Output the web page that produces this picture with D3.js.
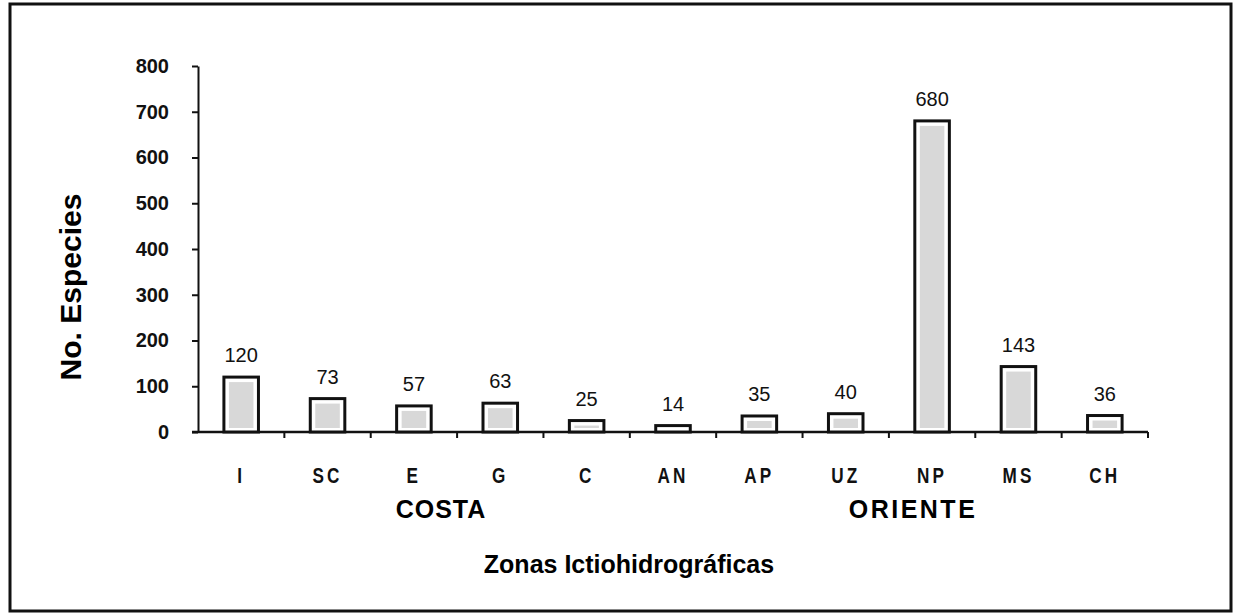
<!DOCTYPE html>
<html>
<head>
<meta charset="utf-8">
<script src="https://cdn.jsdelivr.net/npm/d3@7"></script>
<style>
  body { margin: 0; background: #fff; }
</style>
</head>
<body>
<div class="root"></div>
<script>
const width = 1236;
const height = 613;

const zonas = ["I", "SC", "E", "G", "C", "AN", "AP", "UZ", "NP", "MS", "CH"];
const especies = [120, 73, 57, 63, 25, 14, 35, 40, 680, 143, 36];
const yTicks = [0, 100, 200, 300, 400, 500, 600, 700, 800];

const svg = d3
  .select(".root")
  .append("svg")
  .attr("width", width)
  .attr("height", height);

// marco exterior
svg.append("rect")
  .attr("x", 10).attr("y", 4)
  .attr("width", 1221).attr("height", 607)
  .attr("fill", "none")
  .attr("stroke", "#111")
  .attr("stroke-width", 3);

const x = d3.scaleBand().domain(zonas).range([198, 1148]).paddingInner(0.6).paddingOuter(0.3);
const y = d3.scaleLinear().domain([0, 800]).range([432, 66]);

// eje y
const yAxis = svg.append("g")
  .attr("transform", "translate(198,0)")
  .call(d3.axisLeft(y).tickValues(yTicks).tickSize(6).tickPadding(23).tickSizeOuter(0));
yAxis.select(".domain").attr("stroke", "#111").attr("stroke-width", 2);
yAxis.selectAll(".tick line").attr("stroke", "#111").attr("stroke-width", 2);
yAxis.selectAll("text")
  .attr("fill", "#111")
  .style("font-family", "Liberation Sans, Arial, sans-serif")
  .style("font-weight", "bold")
  .style("font-size", "20px");

// eje x con marcas entre categorias
const step = x.step();
const bounds = d3.range(zonas.length).map((i) => 198 + step * (i + 1));
svg.append("line")
  .attr("x1", 192).attr("x2", 1148)
  .attr("y1", y(0)).attr("y2", y(0))
  .attr("stroke", "#111").attr("stroke-width", 2.5);
svg.selectAll(".xtick")
  .data(bounds)
  .join("line")
  .attr("class", "xtick")
  .attr("x1", (d) => d).attr("x2", (d) => d)
  .attr("y1", y(0)).attr("y2", y(0) + 6)
  .attr("stroke", "#111").attr("stroke-width", 2);

// barras
const bars = svg.append("g");
zonas.forEach((z, i) => {
  const bx = x(z);
  const bw = x.bandwidth();
  const by = y(especies[i]);
  const bh = y(0) - by;
  bars.append("rect")
    .attr("x", bx).attr("y", by)
    .attr("width", bw).attr("height", bh)
    .attr("fill", "#fff")
    .attr("stroke", "#111")
    .attr("stroke-width", 3);
  if (bh > 8) {
    bars.append("rect")
      .attr("x", bx + 5).attr("y", by + 5)
      .attr("width", bw - 10).attr("height", bh - 9)
      .attr("fill", "#d8d8d8");
  }
  bars.append("text")
    .attr("x", bx + bw / 2)
    .attr("y", by - 15)
    .attr("text-anchor", "middle")
    .style("font-family", "Liberation Sans, Arial, sans-serif")
    .style("font-size", "20px")
    .attr("fill", "#111")
    .text(especies[i]);
});

// etiquetas de categoria (estrechas)
svg.selectAll(".xlab")
  .data(zonas)
  .join("text")
  .attr("class", "xlab")
  .attr("transform", (d) => `translate(${x(d) + x.bandwidth() / 2},483) scale(0.78,1)`)
  .attr("text-anchor", "middle")
  .style("font-family", "Liberation Sans, Arial, sans-serif")
  .style("font-weight", "bold")
  .style("font-size", "22px")
  .style("letter-spacing", "4px")
  .attr("fill", "#111")
  .text((d) => d);

const boldFont = "Liberation Sans, Arial, sans-serif";
svg.append("text")
  .attr("x", 441).attr("y", 518)
  .attr("text-anchor", "middle")
  .style("font-family", boldFont)
  .style("font-weight", "bold")
  .style("font-size", "25px")
  .style("letter-spacing", "1px")
  .text("COSTA");
svg.append("text")
  .attr("x", 913).attr("y", 518)
  .attr("text-anchor", "middle")
  .style("font-family", boldFont)
  .style("font-weight", "bold")
  .style("font-size", "25px")
  .style("letter-spacing", "2.5px")
  .text("ORIENTE");
svg.append("text")
  .attr("x", 629).attr("y", 573)
  .attr("text-anchor", "middle")
  .style("font-family", boldFont)
  .style("font-weight", "bold")
  .style("font-size", "25px")
  .text("Zonas Ictiohidrográficas");

svg.append("text")
  .attr("transform", "translate(81,287) rotate(-90)")
  .attr("text-anchor", "middle")
  .style("font-family", "Liberation Sans, Arial, sans-serif")
  .style("font-weight", "bold")
  .style("font-size", "30px")
  .text("No. Especies");
</script>
</body>
</html>
